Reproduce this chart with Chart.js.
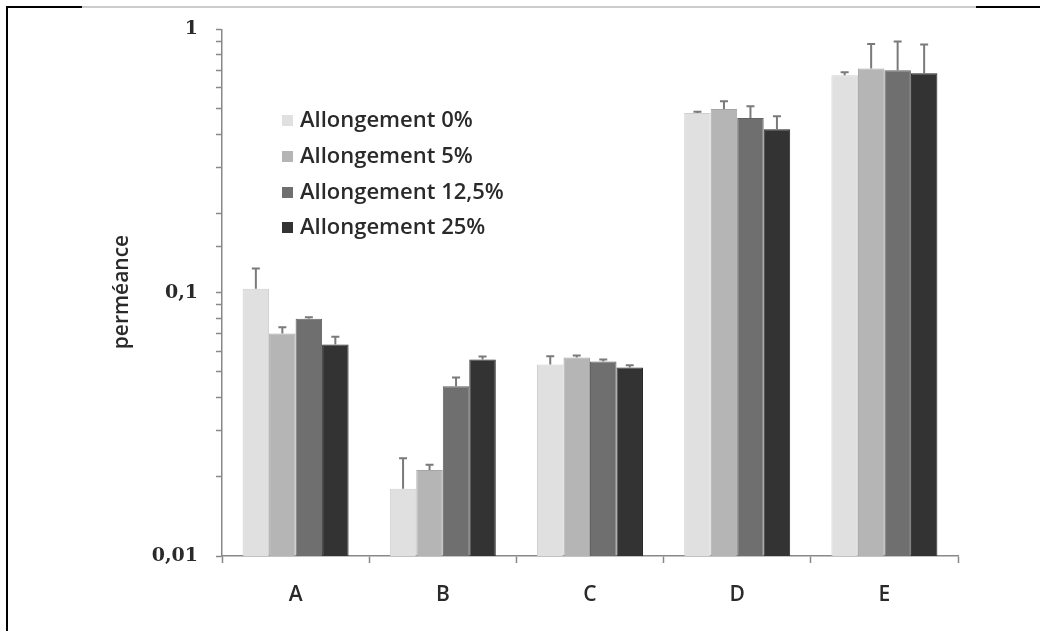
<!DOCTYPE html>
<html><head><meta charset="utf-8">
<script src="https://cdn.jsdelivr.net/npm/chart.js@4/dist/chart.umd.min.js"></script>
<style>html,body{margin:0;padding:0;background:#fff}#wrap{width:1040px;height:631px;position:relative}</style>
</head><body><div id="wrap"><canvas id="c" width="1040" height="631"></canvas></div>
<script>
const categories = ['A', 'B', 'C', 'D', 'E'];
const seriesNames = ['Allongement 0%', 'Allongement 5%', 'Allongement 12,5%', 'Allongement 25%'];
const values0 = [0.1035, 0.018, 0.0534, 0.481, 0.67];
const values5 = [0.070, 0.0212, 0.0567, 0.498, 0.711];
const values125 = [0.0797, 0.0441, 0.0548, 0.461, 0.70];
const values25 = [0.0636, 0.0557, 0.052, 0.418, 0.681];
const err0 = [0.020, 0.0055, 0.004, 0.006, 0.017];
const err5 = [0.004, 0.001, 0.001, 0.035, 0.17];
const err125 = [0.001, 0.0035, 0.001, 0.05, 0.20];
const err25 = [0.0045, 0.0015, 0.001, 0.05, 0.196];
const yTickValues = [0.01, 0.1, 1];
const yTickLabels = ['0,01', '0,1', '1'];
const yTitle = 'perméance';

const fills = ['#e0e0e0', '#b5b5b5', '#6f6f6f', '#333333'];
const edges = ['#cfcfcf', '#a5a5a5', '#626262', '#262626'];
const allValues = [values0, values5, values125, values25];
const allErrors = [err0, err5, err125, err25];
const SANS = '"Open Sans", sans-serif';
const TEXT = '#2a2a2a';

const framePlugin = {
  id: 'frame',
  beforeDraw(chart) {
    const ctx = chart.ctx;
    ctx.save();
    ctx.fillStyle = '#fff';
    ctx.fillRect(0, 0, chart.width, chart.height);
    ctx.fillStyle = '#cccccc';
    ctx.fillRect(82, 6, 894, 2);
    ctx.fillStyle = '#000';
    ctx.fillRect(6, 6, 76, 2);
    ctx.fillRect(976, 6, 64, 2);
    ctx.fillRect(6, 6, 2, 625);
    ctx.restore();
  }
};

const extrasPlugin = {
  id: 'extras',
  afterDatasetsDraw(chart) {
    const ctx = chart.ctx;
    const ys = chart.scales.y;
    ctx.save();
    ctx.strokeStyle = '#7a7a7a';
    ctx.lineWidth = 2;
    chart.data.datasets.forEach((ds, di) => {
      const meta = chart.getDatasetMeta(di);
      meta.data.forEach((bar, i) => {
        const top = ys.getPixelForValue(allValues[di][i] + allErrors[di][i]);
        ctx.beginPath();
        ctx.moveTo(bar.x, bar.y);
        ctx.lineTo(bar.x, top);
        ctx.moveTo(bar.x - 4, top);
        ctx.lineTo(bar.x + 4, top);
        ctx.stroke();
      });
    });
    ctx.restore();
  },
  afterDraw(chart) {
    const ctx = chart.ctx;
    ctx.save();
    const rows = [121, 157, 193, 228];
    ctx.font = '600 22px ' + SANS;
    ctx.textBaseline = 'middle';
    ctx.textAlign = 'left';
    seriesNames.forEach((n, i) => {
      ctx.fillStyle = fills[i];
      ctx.fillRect(282, rows[i] - 6, 11, 11);
      ctx.fillStyle = TEXT;
      ctx.fillText(n, 300, rows[i]);
    });
    ctx.translate(122, 292);
    ctx.rotate(-Math.PI / 2);
    ctx.textAlign = 'center';
    ctx.font = '600 21px ' + SANS;
    ctx.fillText(yTitle, 0, 0);
    ctx.restore();
  }
};

new Chart(document.getElementById('c'), {
  type: 'bar',
  data: {
    labels: categories,
    datasets: seriesNames.map((n, i) => ({
      label: n,
      data: allValues[i],
      backgroundColor: fills[i],
      borderColor: edges[i],
      borderWidth: 1,
      categoryPercentage: 0.72,
      barPercentage: 1.0
    }))
  },
  options: {
    responsive: false,
    animation: false,
    layout: { padding: { left: 0, right: 82, top: 28, bottom: 0 } },
    plugins: { legend: { display: false }, tooltip: { enabled: false } },
    scales: {
      x: {
        offset: true,
        grid: { offset: true, drawOnChartArea: false, tickLength: 7, tickColor: '#888', tickWidth: 1.5 },
        border: { color: '#888', width: 1.5 },
        ticks: { color: TEXT, font: { family: SANS, size: 21, weight: '600' }, padding: 19 },
        afterFit(s) { s.height = 75; }
      },
      y: {
        type: 'logarithmic',
        min: 0.01,
        max: 1,
        grid: { drawOnChartArea: false, tickLength: 6, tickColor: '#888', tickWidth: 1.5 },
        border: { color: '#888', width: 1.5 },
        ticks: {
          autoSkip: false,
          color: TEXT,
          padding: 18,
          font: { family: '"DejaVu Serif", serif', size: 19, weight: 'bold' },
          callback(v) {
            for (let k = 0; k < yTickValues.length; k++) {
              if (Math.abs(v - yTickValues[k]) / yTickValues[k] < 1e-6) return yTickLabels[k];
            }
            return '';
          }
        },
        afterFit(s) { s.width = 222; }
      }
    }
  },
  plugins: [framePlugin, extrasPlugin]
});
</script></body></html>
